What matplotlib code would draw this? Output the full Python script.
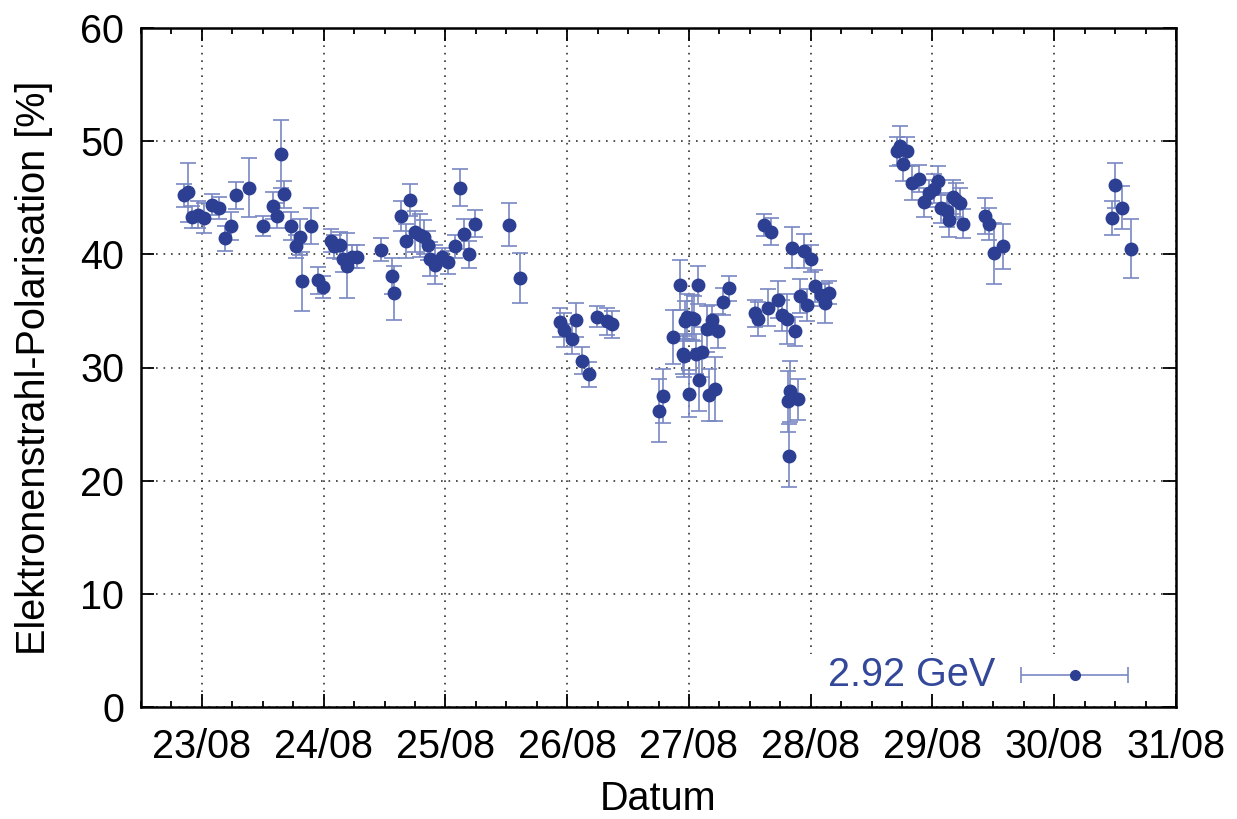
import matplotlib
matplotlib.use("Agg")
import matplotlib.pyplot as plt
from matplotlib.patches import Rectangle
from matplotlib.ticker import MultipleLocator

plt.rcParams['font.family'] = ['Liberation Sans', 'DejaVu Sans']

# Day of August (fractional), polarisation [%], error [%]
day = [22.855, 22.883, 22.916, 22.965, 23.019, 23.082, 23.137, 23.186, 23.238, 23.284,
       23.383, 23.500, 23.580, 23.620, 23.648, 23.675, 23.735, 23.770, 23.806, 23.822,
       23.893, 23.957, 23.998, 24.057, 24.084, 24.134, 24.161, 24.189, 24.235, 24.270,
       24.467, 24.563, 24.576, 24.639, 24.680, 24.713, 24.754, 24.789, 24.828, 24.855,
       24.877, 24.912, 24.973, 25.019, 25.082, 25.117, 25.150, 25.191, 25.246, 25.519,
       25.609,
       25.937, 25.975, 26.039, 26.074, 26.125, 26.180, 26.243, 26.325, 26.371,
       26.757, 26.784, 26.871, 26.926, 26.948, 26.959, 26.970, 26.981, 27.000, 27.022,
       27.041, 27.055, 27.071, 27.084, 27.104, 27.145, 27.166, 27.186, 27.213, 27.240,
       27.279, 27.328,
       27.541, 27.571, 27.617, 27.650, 27.672, 27.732, 27.768, 27.803, 27.814, 27.834,
       27.822, 27.847, 27.869, 27.896, 27.916, 27.946, 27.970, 28.000, 28.033, 28.084,
       28.116, 28.148,
       28.707, 28.735, 28.793, 28.762, 28.834, 28.893, 28.934, 28.970, 29.011, 29.043,
       29.066, 29.120, 29.139, 29.166, 29.194, 29.227, 29.254, 29.434, 29.467, 29.508,
       29.576,
       30.473, 30.500, 30.555, 30.634]

polarisation = [45.2, 45.5, 43.3, 43.5, 43.2, 44.4, 44.1, 41.4, 42.5, 45.2,
                45.9, 42.5, 44.3, 43.4, 48.9, 45.3, 42.5, 40.7, 41.5, 37.6,
                42.5, 37.7, 37.1, 41.2, 40.7, 40.8, 39.6, 39.0, 39.8, 39.8,
                40.4, 38.1, 36.6, 43.4, 41.2, 44.8, 42.0, 41.7, 41.5, 40.8,
                39.6, 39.1, 39.8, 39.3, 40.7, 45.9, 41.8, 40.0, 42.7, 42.6,
                37.9,
                34.0, 33.3, 32.5, 34.2, 30.6, 29.4, 34.5, 34.1, 33.8,
                26.2, 27.5, 32.7, 37.3, 31.2, 31.0, 34.1, 34.5, 27.7, 34.4,
                34.3, 31.2, 37.3, 28.9, 31.4, 33.4, 27.6, 34.2, 28.1, 33.2,
                35.8, 37.0,
                34.8, 34.3, 42.6, 35.3, 42.0, 36.0, 34.6, 34.3, 27.0, 27.9,
                22.2, 40.6, 33.2, 27.2, 36.3, 40.3, 35.5, 39.6, 37.2, 36.4,
                35.7, 36.6,
                49.1, 49.6, 49.1, 48.0, 46.3, 46.7, 44.6, 45.4, 45.8, 46.5,
                44.1, 43.8, 43.0, 45.1, 44.8, 44.5, 42.7, 43.4, 42.7, 40.1,
                40.7,
                43.2, 46.1, 44.1, 40.5]

error = [1.0, 2.6, 1.0, 1.2, 1.3, 0.9, 1.0, 1.1, 1.2, 1.2,
         2.6, 0.9, 1.2, 1.1, 3.0, 1.2, 1.2, 1.0, 1.6, 2.6,
         1.6, 1.2, 1.0, 1.0, 1.0, 1.2, 1.2, 2.9, 1.0, 1.0,
         1.0, 1.6, 2.4, 1.3, 1.5, 1.4, 1.8, 1.9, 1.5, 1.3,
         1.5, 1.7, 0.8, 1.0, 1.0, 1.6, 1.3, 1.2, 1.2, 1.9,
         2.2,
         1.3, 1.5, 1.3, 1.5, 1.2, 1.1, 0.9, 1.2, 1.2,
         2.8, 2.4, 2.4, 2.2, 1.8, 1.8, 1.8, 2.0, 2.1, 2.0,
         2.0, 1.8, 1.7, 2.7, 2.2, 2.0, 2.3, 1.3, 2.8, 1.5,
         1.2, 1.1,
         1.2, 1.5, 1.0, 1.6, 1.2, 1.6, 1.4, 2.2, 2.7, 2.7,
         2.8, 1.8, 1.3, 1.8, 1.5, 1.5, 1.4, 1.2, 1.4, 1.0,
         1.8, 1.0,
         1.3, 1.7, 1.3, 1.5, 1.5, 1.2, 1.3, 1.2, 1.3, 1.3,
         1.3, 1.4, 1.5, 1.5, 1.5, 1.4, 1.3, 1.6, 1.4, 2.7,
         2.0,
         1.5, 2.0, 1.9, 2.6]

tick_days = [23, 24, 25, 26, 27, 28, 29, 30, 31]
tick_labels = ['23/08', '24/08', '25/08', '26/08', '27/08', '28/08', '29/08', '30/08', '31/08']
legend_label = '2.92 GeV'

marker_color = '#2c3f92'
err_color = '#7a88c4'
text_color = '#34489a'

fig = plt.figure(figsize=(12.37, 8.19), dpi=100)
ax = fig.add_axes([141/1237, 1 - 707/819, (1176-141)/1237, (707-28)/819])

ax.errorbar(day, polarisation, yerr=error, fmt='o', color=marker_color,
            markersize=9, ecolor=err_color, elinewidth=1.2, capsize=6,
            capthick=1.2, zorder=3)

ax.set_xlim(22.5, 31.0)
ax.set_ylim(0, 60)
ax.set_xticks(tick_days)
ax.set_xticklabels(tick_labels)
ax.xaxis.set_minor_locator(MultipleLocator(0.25))
ax.set_yticks([0, 10, 20, 30, 40, 50, 60])

ax.grid(True, which='major', color='#333333', linestyle=(0, (1, 3.5)), linewidth=1.2)
ax.set_axisbelow(True)

ax.tick_params(which='both', direction='in', top=True, right=True, colors='black',
               labelsize=28.5)
ax.tick_params(axis='x', which='major', length=9.5, width=1.3, pad=15)
ax.tick_params(axis='y', which='major', length=9.5, width=1.3, pad=12)
ax.tick_params(which='minor', length=4.5, width=1.3)
ax.tick_params(axis='y', which='minor', left=False, right=False)
for s in ax.spines.values():
    s.set_linewidth(1.8)

ax.set_xlabel('Datum', fontsize=28.5, labelpad=10)
ax.set_ylabel('Elektronenstrahl-Polarisation [%]', fontsize=28.5, labelpad=20)

# white legend area hiding the grid
ax.add_patch(Rectangle((0.638, 0.02), 0.36, 0.058, transform=ax.transAxes,
                       facecolor='white', edgecolor='none', zorder=1))
ax.text(0.825, 0.047, legend_label, transform=ax.transAxes, ha='right', va='center',
        fontsize=28.5, color=text_color, zorder=4)
ax.errorbar([0.902], [0.047], xerr=[0.0517], transform=ax.transAxes, fmt='o',
            color=marker_color, markersize=7, ecolor=err_color, elinewidth=1.2,
            capsize=6, capthick=1.2, zorder=4, clip_on=False)

fig.savefig('out.png', dpi=100)
